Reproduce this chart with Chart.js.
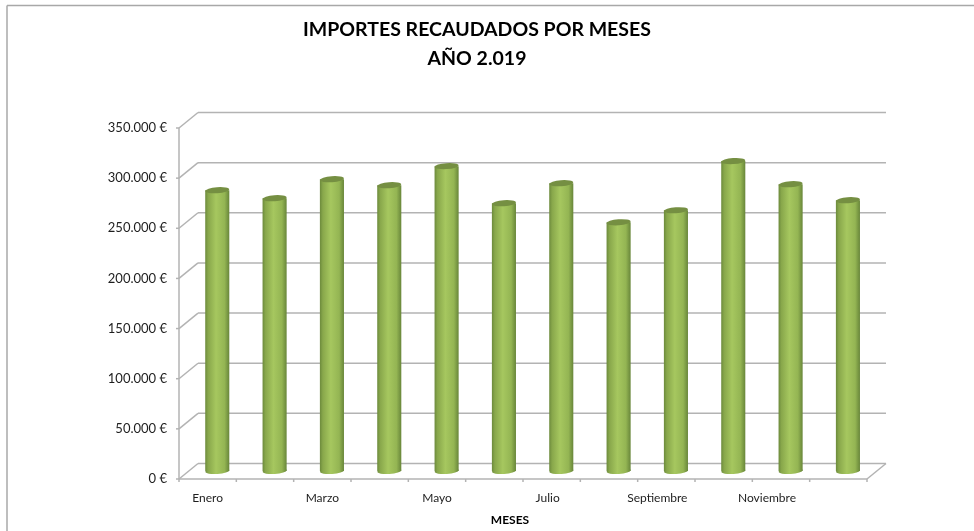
<!DOCTYPE html>
<html>
<head>
<meta charset="utf-8">
<script src="https://cdn.jsdelivr.net/npm/chart.js@4"></script>
<style>
html, body { margin: 0; padding: 0; background: #fff; }
#wrap { width: 974px; height: 531px; position: relative; }
</style>
</head>
<body>
<div id="wrap"><canvas id="chart"></canvas></div>
<script>
const months = ['Enero', 'Febrero', 'Marzo', 'Abril', 'Mayo', 'Junio', 'Julio', 'Agosto', 'Septiembre', 'Octubre', 'Noviembre', 'Diciembre'];
const importes = [280000, 272000, 291000, 285000, 304000, 267000, 287000, 248000, 260000, 309000, 286000, 270000];
const yTicks = [0, 50000, 100000, 150000, 200000, 250000, 300000, 350000];

const titleLines = ['IMPORTES RECAUDADOS POR MESES', 'AÑO 2.019'];
const xTitle = 'MESES';

const FONT = "Lato, 'Open Sans', sans-serif";
const GRID = '#b3b3b3';

// depth of the fake 3D box, the bars stand half way in
const depthX = 19, depthY = 15.5;
const barDX = 9.6, barDY = 8;

// the original's labels drift left of their categories further along the axis
const labelDrift = { Julio: -4, Septiembre: -9, Noviembre: -14 };

function formatEuro(v) {
    return v.toString().replace(/\B(?=(\d{3})+(?!\d))/g, '.') + ' €';
}

function line(ctx, x1, y1, x2, y2) {
    ctx.beginPath();
    ctx.moveTo(x1, y1);
    ctx.lineTo(x2, y2);
    ctx.stroke();
}

function barGradient(ctx, left, right) {
    const g = ctx.createLinearGradient(left, 0, right, 0);
    g.addColorStop(0, '#6c8a3c');
    g.addColorStop(0.12, '#88a74b');
    g.addColorStop(0.45, '#a6c75f');
    g.addColorStop(0.8, '#94b553');
    g.addColorStop(1, '#68863a');
    return g;
}

// tilted ellipse for cylinder ends
function ellipse(ctx, x, y, rx, fill) {
    ctx.beginPath();
    ctx.ellipse(x, y, rx, 3, -0.07, 0, Math.PI * 2);
    ctx.fillStyle = fill;
    ctx.fill();
}

const box3d = {
    id: 'box3d',
    beforeDraw(chart) {
        chart.scales.x.getLabelItems().forEach(item => {
            const drift = labelDrift[item.label];
            if (drift && !item.drifted) {
                item.options.translation[0] += drift;
                item.drifted = true;
            }
        });
    },
    beforeDatasetsDraw(chart) {
        const ctx = chart.ctx;
        const { x, y } = chart.scales;
        const area = chart.chartArea;
        ctx.save();

        // outer frame, only top and left are visible in the picture
        ctx.strokeStyle = '#a8a8a8';
        ctx.lineWidth = 1.5;
        line(ctx, 7, 5.5, 974, 5.5);
        line(ctx, 7, 5.5, 7, 531);

        ctx.strokeStyle = GRID;
        ctx.lineWidth = 1.5;
        yTicks.forEach(v => {
            const py = y.getPixelForValue(v);
            line(ctx, area.left, py, area.left + depthX, py - depthY);
            line(ctx, area.left + depthX, py - depthY, area.right + depthX, py - depthY);
            line(ctx, area.left - 3, py, area.left, py);
        });
        line(ctx, area.left, area.top, area.left, area.bottom);
        line(ctx, area.left, area.bottom, area.right, area.bottom);
        line(ctx, area.right, area.bottom, area.right + depthX, area.bottom - depthY);

        // category separators under the floor
        const step = (area.right - area.left) / months.length;
        for (let i = 0; i <= months.length; i++) {
            const px = x.getPixelForValue(i) - step / 2;
            line(ctx, px, area.bottom, px, area.bottom + 3);
        }
        ctx.restore();
    },
    beforeDatasetDraw(chart, args) {
        const ctx = chart.ctx;
        ctx.save();
        ctx.translate(barDX, -barDY);
        args.meta.data.forEach(bar => {
            const left = bar.x - bar.width / 2;
            ellipse(ctx, bar.x, bar.base, bar.width / 2, barGradient(ctx, left, left + bar.width));
        });
    },
    afterDatasetDraw(chart, args) {
        const ctx = chart.ctx;
        args.meta.data.forEach(bar => {
            ellipse(ctx, bar.x, bar.y, bar.width / 2, '#758f42');
        });
        ctx.restore();
    },
    afterDraw(chart) {
        const ctx = chart.ctx;
        ctx.save();
        ctx.font = 'bold 12px ' + FONT;
        ctx.fillStyle = '#000';
        ctx.textAlign = 'center';
        ctx.textBaseline = 'middle';
        ctx.fillText(xTitle, 510, 520);
        ctx.restore();
    }
};

new Chart(document.getElementById('chart'), {
    type: 'bar',
    data: {
        labels: months,
        datasets: [{
            label: 'Importes',
            data: importes,
            clip: false,
            barPercentage: 0.42,
            categoryPercentage: 1,
            backgroundColor: c => {
                const sx = c.chart.scales.x;
                if (!sx || !c.chart.chartArea) return '#93b550';
                const cx = sx.getPixelForValue(c.dataIndex);
                const w = (sx.right - sx.left) / months.length * 0.42;
                if (!Number.isFinite(cx) || !Number.isFinite(w)) return '#93b550';
                return barGradient(c.chart.ctx, cx - w / 2, cx + w / 2);
            }
        }]
    },
    plugins: [box3d],
    options: {
        responsive: true,
        maintainAspectRatio: false,
        animation: false,
        layout: { padding: { left: 87, right: 107, top: 0, bottom: 0 } },
        plugins: {
            legend: { display: false },
            tooltip: { enabled: false },
            title: {
                display: true,
                text: titleLines,
                color: '#000',
                font: { family: FONT, size: 19.5, weight: 'bold', lineHeight: 1.5 },
                padding: { top: 15.3, bottom: 54.2 }
            }
        },
        scales: {
            x: {
                grid: { display: false, drawTicks: false },
                border: { display: false },
                afterFit: s => { s.height = 52; },
                ticks: {
                    autoSkip: false,
                    maxRotation: 0,
                    padding: 12,
                    color: '#1e1e1e',
                    font: { family: FONT, size: 12 },
                    callback: (v, i) => (i % 2 === 0 ? months[i] : '')
                }
            },
            y: {
                min: 0,
                max: 350000,
                grid: { display: false, drawTicks: false },
                border: { display: false },
                afterFit: s => { s.width = 92; },
                afterBuildTicks: s => { s.ticks = yTicks.map(v => ({ value: v })); },
                ticks: {
                    padding: 12,
                    color: '#1e1e1e',
                    font: { family: FONT, size: 13 },
                    callback: v => formatEuro(v)
                }
            }
        }
    }
});
</script>
</body>
</html>
